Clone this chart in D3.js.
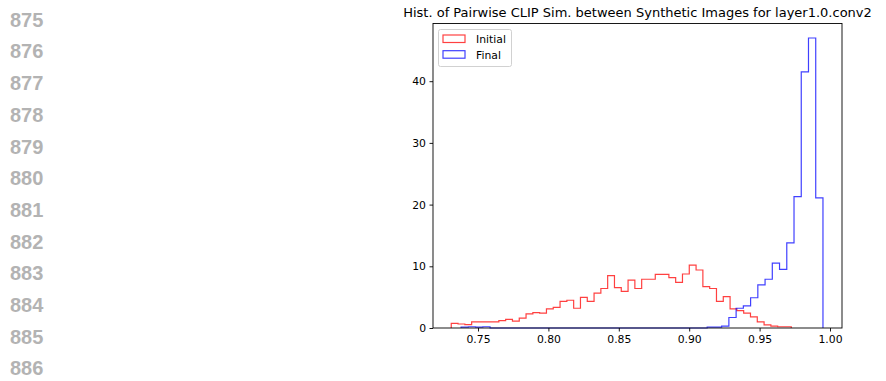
<!DOCTYPE html>
<html>
<head>
<meta charset="utf-8">
<script src="https://cdn.jsdelivr.net/npm/d3@7"></script>
<style>
  body { margin: 0; background: #fff; }
  svg { font-family: "DejaVu Sans", sans-serif; display: block; }
</style>
</head>
<body>
<svg id="chart" width="886" height="381"></svg>
<script>
// margin line numbers of the page
const lineNumbers = [875, 876, 877, 878, 879, 880, 881, 882, 883, 884, 885, 886];

// histogram ranges (min, max of each sample set), 50 bins each
const initialRange = [0.7310, 0.9725];
const finalRange = [0.7380, 0.9950];

// density per bin
const initialDensity = [
  0.76, 0.65, 0.55, 1.0, 1.0, 1.0, 1.0, 1.2, 1.4, 1.1,
  1.6, 2.3, 2.5, 2.4, 3.1, 3.35, 4.3, 4.5, 3.2, 4.95,
  4.3, 5.65, 6.4, 8.5, 6.55, 5.95, 7.75, 6.4, 7.9, 7.9,
  8.7, 8.7, 8.15, 7.4, 8.75, 10.2, 9.4, 6.7, 6.4, 4.3,
  5.1, 3.1, 2.8, 2.4, 1.8, 1.0, 0.5, 0.3, 0.2, 0.2
];
const finalDensity = [
  0.15, 0.2, 0.15, 0.2, 0, 0, 0, 0, 0, 0,
  0, 0, 0, 0, 0, 0, 0, 0, 0, 0,
  0, 0, 0, 0, 0, 0, 0, 0, 0, 0,
  0, 0, 0, 0, 0.15, 0.15, 0.3, 1.7, 3.2, 3.6,
  4.9, 7.0, 7.9, 10.5, 9.5, 13.8, 21.3, 41.5, 47.0, 21.1
];

const xTicks = [0.75, 0.80, 0.85, 0.90, 0.95, 1.00];
const yTicks = [0, 10, 20, 30, 40];
const title = "Hist. of Pairwise CLIP Sim. between Synthetic Images for layer1.0.conv2";

const svg = d3.select('#chart');
const plot = { left: 433, right: 842, top: 23.5, bottom: 328 };

const x = d3.scaleLinear().domain([0.71804, 1.00852]).range([plot.left, plot.right]);
const y = d3.scaleLinear().domain([0, 49.35]).range([plot.bottom, plot.top]);

// line numbers
svg.append('g')
  .selectAll('text')
  .data(lineNumbers)
  .join('text')
  .attr('x', 10)
  .attr('y', (d, i) => 26.7 + i * 31.7)
  .attr('font-family', '"Liberation Sans", Arial, sans-serif')
  .attr('font-weight', 'bold')
  .attr('font-size', 20)
  .attr('fill', '#b3b3b3')
  .text(d => d);

function stepPoints(range, dens) {
  const n = dens.length;
  const w = (range[1] - range[0]) / n;
  const pts = [[range[0], 0]];
  dens.forEach((h, i) => {
    pts.push([range[0] + i * w, h]);
    pts.push([range[0] + (i + 1) * w, h]);
  });
  pts.push([range[1], 0]);
  return pts;
}

const line = d3.line().x(d => x(d[0])).y(d => y(d[1]));

svg.append('path')
  .attr('d', line(stepPoints(initialRange, initialDensity)))
  .attr('fill', 'none')
  .attr('stroke', 'red')
  .attr('stroke-opacity', 0.75)
  .attr('stroke-width', 1.2);

svg.append('path')
  .attr('d', line(stepPoints(finalRange, finalDensity)))
  .attr('fill', 'none')
  .attr('stroke', 'blue')
  .attr('stroke-opacity', 0.75)
  .attr('stroke-width', 1.2);

// axes
const xAxis = svg.append('g')
  .attr('transform', `translate(0,${plot.bottom})`)
  .call(d3.axisBottom(x).tickValues(xTicks).tickFormat(d3.format('.2f')).tickSize(3.5).tickPadding(3.5));
const yAxis = svg.append('g')
  .attr('transform', `translate(${plot.left},0)`)
  .call(d3.axisLeft(y).tickValues(yTicks).tickSize(3.5).tickPadding(3.5));

[xAxis, yAxis].forEach(g => {
  g.select('.domain').remove();
  g.selectAll('text').attr('font-family', '"DejaVu Sans", sans-serif').attr('font-size', 10.8).attr('fill', '#000');
  g.selectAll('line').attr('stroke', '#000').attr('stroke-width', 0.9);
});

// frame
svg.append('rect')
  .attr('x', plot.left)
  .attr('y', plot.top)
  .attr('width', plot.right - plot.left)
  .attr('height', plot.bottom - plot.top)
  .attr('fill', 'none')
  .attr('stroke', '#000')
  .attr('stroke-width', 0.9);

// title
svg.append('text')
  .attr('x', (plot.left + plot.right) / 2)
  .attr('y', 17)
  .attr('text-anchor', 'middle')
  .attr('font-size', 13)
  .attr('fill', '#000')
  .text(title);

// legend
const legend = svg.append('g');
legend.append('rect')
  .attr('x', 438.5).attr('y', 29.5)
  .attr('width', 73).attr('height', 37)
  .attr('rx', 2)
  .attr('fill', '#fff').attr('fill-opacity', 0.8)
  .attr('stroke', '#ccc').attr('stroke-width', 0.9);

const legendItems = [
  { label: 'Initial', color: 'red' },
  { label: 'Final', color: 'blue' }
];
legendItems.forEach((d, i) => {
  const yy = 35 + i * 15.7;
  legend.append('rect')
    .attr('x', 443).attr('y', yy)
    .attr('width', 22).attr('height', 7.5)
    .attr('fill', 'none')
    .attr('stroke', d.color).attr('stroke-opacity', 0.75).attr('stroke-width', 1.2);
  legend.append('text')
    .attr('x', 476).attr('y', yy + 8)
    .attr('font-size', 10.8)
    .attr('fill', '#000')
    .text(d.label);
});
</script>
</body>
</html>
